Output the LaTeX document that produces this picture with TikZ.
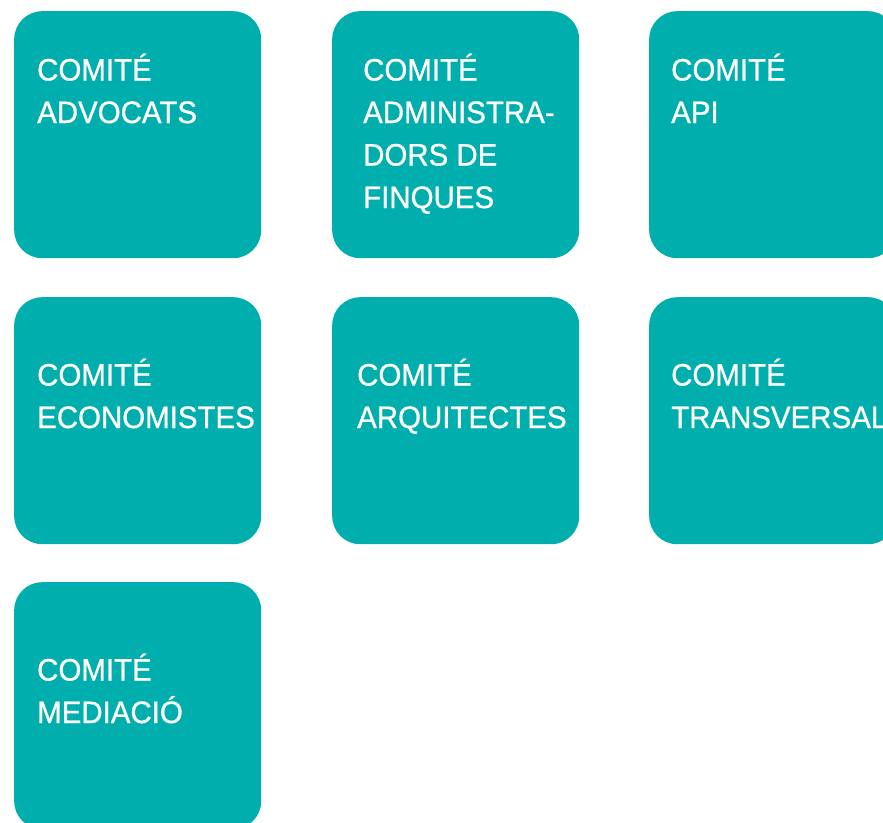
\documentclass[tikz,border=0pt]{standalone}
\usepackage{fontspec}
\setmainfont[FakeStretch=0.95,FakeBold=0.8]{Liberation Sans}
\definecolor{comteal}{RGB}{0,174,173}
\begin{document}
\begin{tikzpicture}[x=1pt,y=-1pt,
  comitebox/.style={fill=comteal, draw=none, rounded corners=28pt,
    minimum width=247pt, minimum height=247pt, anchor=north west, inner sep=0pt},
  comitetext/.style={anchor=base west, align=left, text=white, inner sep=0pt,
    font=\fontsize{31}{42.5}\selectfont}]
\useasboundingbox (0,0) rectangle (883,822);
\clip (0,0) rectangle (883,822);
% boxes
\node[comitebox] (b1) at (14,11) {};
\node[comitebox] (b2) at (332,11) {};
\node[comitebox] (b3) at (649,11) {};
\node[comitebox] (b4) at (14,297) {};
\node[comitebox] (b5) at (332,297) {};
\node[comitebox] (b6) at (649,297) {};
\node[comitebox] (b7) at (14,582) {};
% texts (anchor = baseline of the last line)
\node[comitetext] (t1) at (37,123) {COMITÉ\\ADVOCATS};
\node[comitetext] (t2) at (363,208) {COMITÉ\\ADMINISTRA-\\DORS DE\\FINQUES};
\node[comitetext] (t3) at (671,123) {COMITÉ\\API};
\node[comitetext] (t4) at (37,428) {COMITÉ\\ECONOMISTES};
\node[comitetext] (t5) at (357,428) {COMITÉ\\ARQUITECTES};
\node[comitetext] (t6) at (671,428) {COMITÉ\\TRANSVERSAL};
\node[comitetext] (t7) at (37,723) {COMITÉ\\MEDIACIÓ};
\end{tikzpicture}
\end{document}
